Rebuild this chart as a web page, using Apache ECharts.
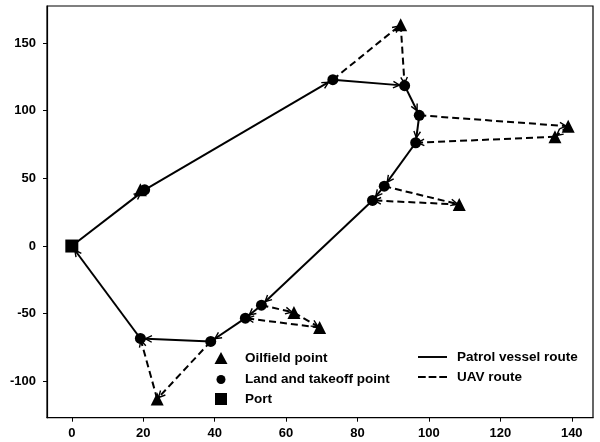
<!DOCTYPE html>
<html>
<head>
<meta charset="utf-8">
<script src="https://cdn.jsdelivr.net/npm/echarts@6/dist/echarts.min.js"></script>
<style>
html,body{margin:0;padding:0;background:#fff;}
#chart{width:600px;height:442px;}
</style>
</head>
<body>
<div id="chart"></div>
<script>
// ---- data ----
const portPoints = [[0, 0]];
const oilfieldPoints = [[19.2, 41.5], [92.1, 163.5], [139.0, 88.5], [135.3, 80.7], [108.5, 30.7], [62.2, -49.1], [69.4, -60.2], [23.9, -113.0]];
const landPoints = [[20.4, 41.5], [73.1, 122.9], [93.2, 118.5], [97.3, 96.6], [96.3, 76.3], [87.5, 44.2], [84.2, 33.7], [53.1, -43.7], [48.6, -53.3], [38.9, -70.5], [19.2, -68.3]];
const patrolRoute = [[0, 0], [20.4, 41.5], [73.1, 122.9], [93.2, 118.5], [97.3, 96.6], [96.3, 76.3], [87.5, 44.2], [84.2, 33.7], [53.1, -43.7], [48.6, -53.3], [38.9, -70.5], [19.2, -68.3], [0, 0]];
const uavRoutes = [
  [[73.1, 122.9], [92.1, 163.5], [93.2, 118.5]],
  [[97.3, 96.6], [139.0, 88.5], [135.3, 80.7], [96.3, 76.3]],
  [[87.5, 44.2], [108.5, 30.7], [84.2, 33.7]],
  [[53.1, -43.7], [62.2, -49.1], [69.4, -60.2], [48.6, -53.3]],
  [[38.9, -70.5], [23.9, -113.0], [19.2, -68.3]]
];
const xTicks = [0, 20, 40, 60, 80, 100, 120, 140];
const yTicks = [-100, -50, 0, 50, 100, 150];
const legendNames = ['Oilfield point', 'Land and takeoff point', 'Port', 'Patrol vessel route', 'UAV route'];

// ---- helpers ----
function toSegments(route) {
  const s = [];
  for (let i = 0; i < route.length - 1; i++) s.push([route[i][0], route[i][1], route[i + 1][0], route[i + 1][1]]);
  return s;
}
const patrolSegments = toSegments(patrolRoute);
const uavSegments = [].concat(...uavRoutes.map(toSegments));

const allPts = [].concat(portPoints, oilfieldPoints, landPoints);
const xs = allPts.map(p => p[0]), ys = allPts.map(p => p[1]);
const xMin0 = Math.min(...xs), xMax0 = Math.max(...xs), yMin0 = Math.min(...ys), yMax0 = Math.max(...ys);
const xPad = (xMax0 - xMin0) * 0.05, yPad = (yMax0 - yMin0) * 0.05;

function makeArrowRender(dash, shrink) {
  return function (params, api) {
    const p1 = api.coord([api.value(0), api.value(1)]);
    const p2 = api.coord([api.value(2), api.value(3)]);
    const dx = p2[0] - p1[0], dy = p2[1] - p1[1];
    const len = Math.sqrt(dx * dx + dy * dy) || 1;
    const ux = dx / len, uy = dy / len;
    const L = 6.5, W = 3.3;
    const tip = [p2[0] - ux * shrink, p2[1] - uy * shrink];
    const back = [tip[0] - ux * L, tip[1] - uy * L];
    const px = -uy, py = ux;
    return {
      type: 'group',
      children: [
        { type: 'line', shape: { x1: p1[0], y1: p1[1], x2: p2[0], y2: p2[1] },
          style: { stroke: '#000', lineWidth: 2, lineDash: dash, fill: null } },
        { type: 'polyline', shape: { points: [[back[0] + px * W, back[1] + py * W], tip, [back[0] - px * W, back[1] - py * W]] },
          style: { stroke: '#000', lineWidth: 1.4, fill: null } }
      ]
    };
  };
}

const font = '"Liberation Sans", Arial, sans-serif';
const legTxt = { fontFamily: font, fontWeight: 'bold', fontSize: 13.5, color: '#000' };

const chart = echarts.init(document.getElementById('chart'), null, { renderer: 'canvas' });
chart.setOption({
  animation: false,
  backgroundColor: '#fff',
  grid: { left: 47, top: 6, width: 546, height: 411.7, show: true, borderColor: '#000', borderWidth: 1.2, backgroundColor: '#fff' },
  xAxis: {
    type: 'value', min: xMin0 - xPad, max: xMax0 + xPad,
    splitLine: { show: false },
    axisLine: { show: true, onZero: false, lineStyle: { color: '#000', width: 1.2 } },
    axisTick: { show: true, inside: false, length: 4, customValues: xTicks, lineStyle: { color: '#000', width: 1 } },
    axisLabel: { customValues: xTicks, margin: 9, fontFamily: font, fontWeight: 'bold', fontSize: 13, color: '#000' }
  },
  yAxis: {
    type: 'value', min: yMin0 - yPad, max: yMax0 + yPad,
    splitLine: { show: false },
    axisLine: { show: true, onZero: false, lineStyle: { color: '#000', width: 1.2 } },
    axisTick: { show: true, inside: false, length: 4, customValues: yTicks, lineStyle: { color: '#000', width: 1 } },
    axisLabel: { customValues: yTicks, margin: 11, fontFamily: font, fontWeight: 'bold', fontSize: 13, color: '#000' }
  },
  legend: [
    { data: [{ name: legendNames[0], icon: 'triangle' }], left: 214.5, top: 351, itemWidth: 13, itemHeight: 12, padding: 0, selectedMode: false, textStyle: Object.assign({ padding: [0, 0, 0, 12.5] }, legTxt) },
    { data: [{ name: legendNames[1], icon: 'circle' }], left: 216.5, top: 372.5, itemWidth: 9, itemHeight: 9, padding: 0, selectedMode: false, textStyle: Object.assign({ padding: [0, 0, 0, 14.5] }, legTxt) },
    { data: [{ name: legendNames[2], icon: 'rect' }], left: 215, top: 392, itemWidth: 12, itemHeight: 12, padding: 0, selectedMode: false, textStyle: Object.assign({ padding: [0, 0, 0, 13] }, legTxt) },
    { data: [{ name: legendNames[3], icon: 'path://M0,0H30V2H0Z' }], left: 418, top: 350, itemWidth: 29, itemHeight: 14, padding: 0, selectedMode: false, textStyle: Object.assign({ padding: [0, 0, 0, 5] }, legTxt) },
    { data: [{ name: legendNames[4], icon: 'path://M0,0H8V2H0Z M11,0H19V2H11Z M22,0H30V2H22Z' }], left: 418, top: 370, itemWidth: 29, itemHeight: 14, padding: 0, selectedMode: false, textStyle: Object.assign({ padding: [0, 0, 0, 5] }, legTxt) }
  ],
  series: [
    { name: legendNames[3], type: 'custom', renderItem: makeArrowRender(null, 5), data: patrolSegments,
      encode: { x: [0, 2], y: [1, 3] }, itemStyle: { color: '#000' }, z: 2, silent: true },
    { name: legendNames[4], type: 'custom', renderItem: makeArrowRender([7, 4], 2), data: uavSegments,
      encode: { x: [0, 2], y: [1, 3] }, itemStyle: { color: '#000' }, z: 2, silent: true },
    { name: legendNames[0], type: 'scatter', data: oilfieldPoints, symbol: 'triangle', symbolSize: 13,
      itemStyle: { color: '#000', opacity: 1 }, z: 3, silent: true },
    { name: legendNames[1], type: 'scatter', data: landPoints, symbol: 'circle', symbolSize: 11,
      itemStyle: { color: '#000', opacity: 1 }, z: 4, silent: true },
    { name: legendNames[2], type: 'scatter', data: portPoints, symbol: 'rect', symbolSize: 13,
      itemStyle: { color: '#000', opacity: 1 }, z: 4, silent: true }
  ]
});
</script>
</body>
</html>
